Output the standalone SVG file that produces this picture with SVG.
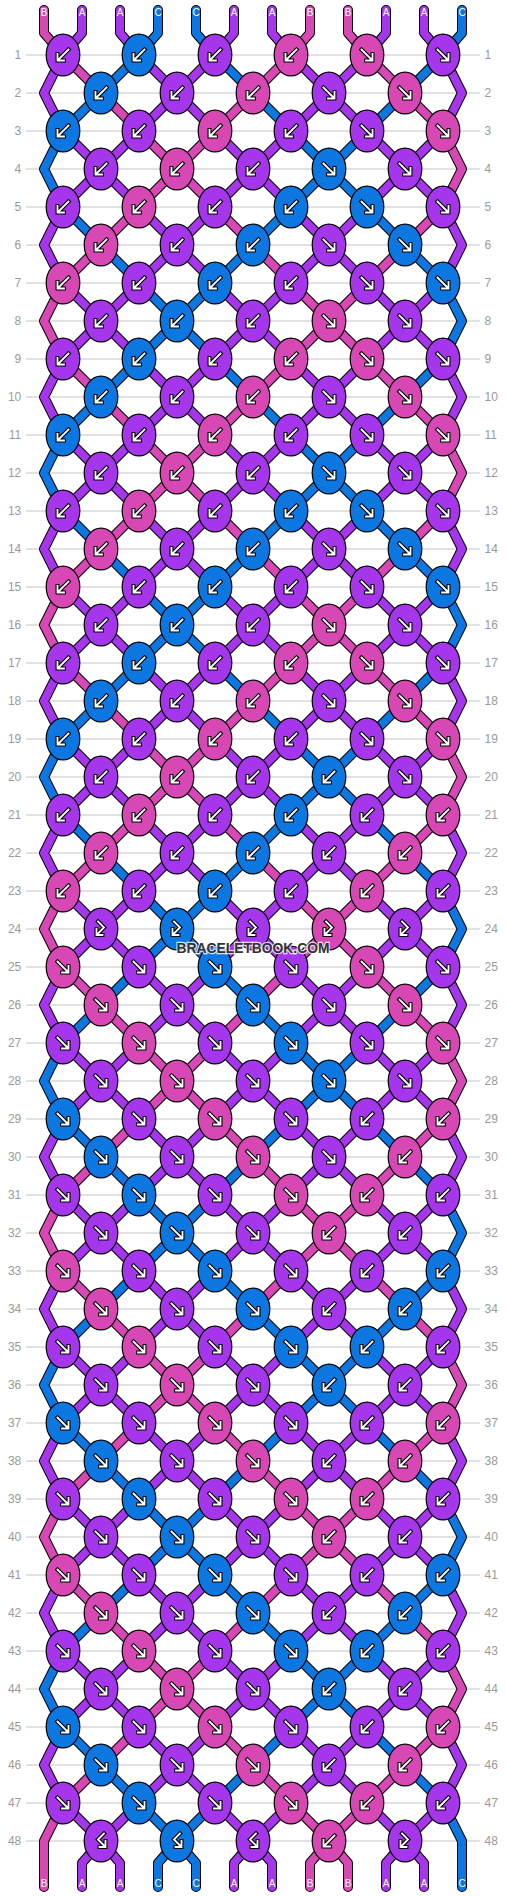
<svg xmlns="http://www.w3.org/2000/svg" xmlns:xlink="http://www.w3.org/1999/xlink" width="506" height="1896" viewBox="0 0 506 1896">
<style>
.a{fill:#a536ec}.b{fill:#d848b5}.c{fill:#0d77e1}
ellipse{stroke:#000;stroke-width:1.2}
.rn{font-family:"Liberation Sans",Arial,sans-serif;font-size:12px;fill:#9a9a9a}
.lb{font-family:"Liberation Sans",Arial,sans-serif;font-size:10px;fill:#fff;text-anchor:middle}
.ol{fill:none;stroke:#000;stroke-width:10;stroke-linecap:round;stroke-linejoin:round}
.cl{fill:none;stroke-width:8;stroke-linecap:round;stroke-linejoin:round}
</style>
<defs>
<path id="sAa" d="M63,55L44,93L63,131M139,55L177,93L215,55M139,131L177,93L215,131M291,55L329,93L367,55M291,131L329,93L367,131M443,55L462,93L443,131M63,131L101,169L139,131M63,207L101,169L139,207M215,131L253,169L291,131M215,207L253,169L291,207M367,131L405,169L443,131M367,207L405,169L443,207M63,207L44,245L63,283M139,207L177,245L215,207M139,283L177,245L215,283M291,207L329,245L367,207M291,283L329,245L367,283M443,207L462,245L443,283M63,283L101,321L139,283M215,283L253,321L291,283M367,283L405,321L443,283"/>
<path id="sAb" d="M63,55L101,93L139,131M291,55L253,93L215,131M367,55L405,93L443,131M139,131L177,169L215,131M139,207L177,169L215,207M443,131L462,169L443,207M139,207L101,245L63,283M215,207L253,245L291,283M443,207L405,245L367,283M291,283L329,321L367,283"/>
<path id="sAc" d="M139,55L101,93L63,131M215,55L253,93L291,131M443,55L405,93L367,131M63,131L44,169L63,207M291,131L329,169L367,131M291,207L329,169L367,207M63,207L101,245L139,283M291,207L253,245L215,283M367,207L405,245L443,283M139,283L177,321L215,283"/>
<path id="sBa" d="M63,359L101,321L139,359M215,359L253,321L291,359M367,359L405,321L443,359"/>
<path id="sBb" d="M63,283L44,321L63,359M291,359L329,321L367,359"/>
<path id="sBc" d="M139,359L177,321L215,359M443,283L462,321L443,359"/>
<path id="tb" d="M44,10L44,33L63,55M310,10L310,33L291,55M348,10L348,33L367,55M63,1803L44,1841L44,1887M329,1841L310,1863L310,1887M329,1841L348,1863L348,1887"/>
<path id="ta" d="M82,10L82,33L63,55M120,10L120,33L139,55M234,10L234,33L215,55M272,10L272,33L291,55M386,10L386,33L367,55M424,10L424,33L443,55M101,1841L82,1863L82,1887M101,1841L120,1863L120,1887M253,1841L234,1863L234,1887M253,1841L272,1863L272,1887M405,1841L386,1863L386,1887M405,1841L424,1863L424,1887"/>
<path id="tc" d="M158,10L158,33L139,55M196,10L196,33L215,55M462,10L462,33L443,55M177,1841L158,1863L158,1887M177,1841L196,1863L196,1887M443,1803L462,1841L462,1887"/>
<g id="kA"><use href="#sAa"/><use href="#sAb"/><use href="#sAc"/></g>
<g id="kB"><use href="#sBa"/><use href="#sBb"/><use href="#sBc"/></g>
<path id="pL" d="M5.5,-5.5L-4.5,4.5M-5.5,-1L-5.5,5.5L1,5.5"/>
<path id="pF" d="M-3,-7.5L3,-1.5L-4,5.5M-4.5,0L-4.5,6L1.5,6"/>
<g id="L" fill="none" stroke-linecap="square"><use href="#pL" stroke="#000" stroke-width="4"/><use href="#pL" stroke="#fff" stroke-width="1.8"/></g>
<g id="R" transform="scale(-1,1)"><use href="#L"/></g>
<g id="F" fill="none" stroke-linecap="square"><use href="#pF" stroke="#000" stroke-width="4"/><use href="#pF" stroke="#fff" stroke-width="1.8"/></g>
<g id="G" transform="scale(-1,1)"><use href="#F"/></g>
<ellipse id="ea" class="a" rx="16.8" ry="20.9"/>
<ellipse id="eb" class="b" rx="16.8" ry="20.9"/>
<ellipse id="ec" class="c" rx="16.8" ry="20.9"/>
<g id="aL"><use href="#ea"/><use href="#L"/></g>
<g id="bL"><use href="#eb"/><use href="#L"/></g>
<g id="cL"><use href="#ec"/><use href="#L"/></g>
<g id="aR"><use href="#ea"/><use href="#R"/></g>
<g id="bR"><use href="#eb"/><use href="#R"/></g>
<g id="cR"><use href="#ec"/><use href="#R"/></g>
<g id="aF"><use href="#ea"/><use href="#F"/></g>
<g id="bF"><use href="#eb"/><use href="#F"/></g>
<g id="cF"><use href="#ec"/><use href="#F"/></g>
<g id="aG"><use href="#ea"/><use href="#G"/></g>
<g id="cG"><use href="#ec"/><use href="#G"/></g>
</defs>
<rect width="506" height="1896" fill="#fff"/>
<g id="grid">
<path stroke="#c4c4c4" stroke-width="1" fill="none" d="M26,55H480M26,93H480M26,131H480M26,169H480M26,207H480M26,245H480M26,283H480M26,321H480M26,359H480M26,397H480M26,435H480M26,473H480M26,511H480M26,549H480M26,587H480M26,625H480M26,663H480M26,701H480M26,739H480M26,777H480M26,815H480M26,853H480M26,891H480M26,929H480M26,967H480M26,1005H480M26,1043H480M26,1081H480M26,1119H480M26,1157H480M26,1195H480M26,1233H480M26,1271H480M26,1309H480M26,1347H480M26,1385H480M26,1423H480M26,1461H480M26,1499H480M26,1537H480M26,1575H480M26,1613H480M26,1651H480M26,1689H480M26,1727H480M26,1765H480M26,1803H480M26,1841H480"/>
<g class="rn" transform="translate(0,4.3)">
<g text-anchor="end">
<text x="21.3" y="55">1</text><text x="21.3" y="93">2</text><text x="21.3" y="131">3</text><text x="21.3" y="169">4</text><text x="21.3" y="207">5</text><text x="21.3" y="245">6</text><text x="21.3" y="283">7</text><text x="21.3" y="321">8</text><text x="21.3" y="359">9</text><text x="21.3" y="397">10</text><text x="21.3" y="435">11</text><text x="21.3" y="473">12</text><text x="21.3" y="511">13</text><text x="21.3" y="549">14</text><text x="21.3" y="587">15</text><text x="21.3" y="625">16</text><text x="21.3" y="663">17</text><text x="21.3" y="701">18</text><text x="21.3" y="739">19</text><text x="21.3" y="777">20</text><text x="21.3" y="815">21</text><text x="21.3" y="853">22</text><text x="21.3" y="891">23</text><text x="21.3" y="929">24</text><text x="21.3" y="967">25</text><text x="21.3" y="1005">26</text><text x="21.3" y="1043">27</text><text x="21.3" y="1081">28</text><text x="21.3" y="1119">29</text><text x="21.3" y="1157">30</text><text x="21.3" y="1195">31</text><text x="21.3" y="1233">32</text><text x="21.3" y="1271">33</text><text x="21.3" y="1309">34</text><text x="21.3" y="1347">35</text><text x="21.3" y="1385">36</text><text x="21.3" y="1423">37</text><text x="21.3" y="1461">38</text><text x="21.3" y="1499">39</text><text x="21.3" y="1537">40</text><text x="21.3" y="1575">41</text><text x="21.3" y="1613">42</text><text x="21.3" y="1651">43</text><text x="21.3" y="1689">44</text><text x="21.3" y="1727">45</text><text x="21.3" y="1765">46</text><text x="21.3" y="1803">47</text><text x="21.3" y="1841">48</text>
</g>
<g text-anchor="start">
<text x="484.5" y="55">1</text><text x="484.5" y="93">2</text><text x="484.5" y="131">3</text><text x="484.5" y="169">4</text><text x="484.5" y="207">5</text><text x="484.5" y="245">6</text><text x="484.5" y="283">7</text><text x="484.5" y="321">8</text><text x="484.5" y="359">9</text><text x="484.5" y="397">10</text><text x="484.5" y="435">11</text><text x="484.5" y="473">12</text><text x="484.5" y="511">13</text><text x="484.5" y="549">14</text><text x="484.5" y="587">15</text><text x="484.5" y="625">16</text><text x="484.5" y="663">17</text><text x="484.5" y="701">18</text><text x="484.5" y="739">19</text><text x="484.5" y="777">20</text><text x="484.5" y="815">21</text><text x="484.5" y="853">22</text><text x="484.5" y="891">23</text><text x="484.5" y="929">24</text><text x="484.5" y="967">25</text><text x="484.5" y="1005">26</text><text x="484.5" y="1043">27</text><text x="484.5" y="1081">28</text><text x="484.5" y="1119">29</text><text x="484.5" y="1157">30</text><text x="484.5" y="1195">31</text><text x="484.5" y="1233">32</text><text x="484.5" y="1271">33</text><text x="484.5" y="1309">34</text><text x="484.5" y="1347">35</text><text x="484.5" y="1385">36</text><text x="484.5" y="1423">37</text><text x="484.5" y="1461">38</text><text x="484.5" y="1499">39</text><text x="484.5" y="1537">40</text><text x="484.5" y="1575">41</text><text x="484.5" y="1613">42</text><text x="484.5" y="1651">43</text><text x="484.5" y="1689">44</text><text x="484.5" y="1727">45</text><text x="484.5" y="1765">46</text><text x="484.5" y="1803">47</text><text x="484.5" y="1841">48</text>
</g>
</g>
</g>
<g id="connectors">
<g class="ol">
<use href="#kA"/><use href="#kA" y="304"/><use href="#kA" y="608"/><use href="#kA" y="912"/><use href="#kA" y="1216"/><use href="#kA" y="1520"/>
<use href="#kB"/><use href="#kB" y="304"/><use href="#kB" y="608"/><use href="#kB" y="912"/><use href="#kB" y="1216"/>
<use href="#ta"/><use href="#tb"/><use href="#tc"/>
</g>
<g class="cl" stroke="#a536ec">
<use href="#sAa"/><use href="#sAa" y="304"/><use href="#sAa" y="608"/><use href="#sAa" y="912"/><use href="#sAa" y="1216"/><use href="#sAa" y="1520"/>
<use href="#sBa"/><use href="#sBa" y="304"/><use href="#sBa" y="608"/><use href="#sBa" y="912"/><use href="#sBa" y="1216"/>
<use href="#ta"/>
</g>
<g class="cl" stroke="#d848b5">
<use href="#sAb"/><use href="#sAb" y="304"/><use href="#sAb" y="608"/><use href="#sAb" y="912"/><use href="#sAb" y="1216"/><use href="#sAb" y="1520"/>
<use href="#sBb"/><use href="#sBb" y="304"/><use href="#sBb" y="608"/><use href="#sBb" y="912"/><use href="#sBb" y="1216"/>
<use href="#tb"/>
</g>
<g class="cl" stroke="#0d77e1">
<use href="#sAc"/><use href="#sAc" y="304"/><use href="#sAc" y="608"/><use href="#sAc" y="912"/><use href="#sAc" y="1216"/><use href="#sAc" y="1520"/>
<use href="#sBc"/><use href="#sBc" y="304"/><use href="#sBc" y="608"/><use href="#sBc" y="912"/><use href="#sBc" y="1216"/>
<use href="#tc"/>
</g>
</g>
<g id="labels" class="lb">
<text x="44" y="16">B</text><text x="82" y="16">A</text><text x="120" y="16">A</text><text x="158" y="16">C</text><text x="196" y="16">C</text><text x="234" y="16">A</text><text x="272" y="16">A</text><text x="310" y="16">B</text><text x="348" y="16">B</text><text x="386" y="16">A</text><text x="424" y="16">A</text><text x="462" y="16">C</text>
<text x="44" y="1887">B</text><text x="82" y="1887">A</text><text x="120" y="1887">A</text><text x="158" y="1887">C</text><text x="196" y="1887">C</text><text x="234" y="1887">A</text><text x="272" y="1887">A</text><text x="310" y="1887">B</text><text x="348" y="1887">B</text><text x="386" y="1887">A</text><text x="424" y="1887">A</text><text x="462" y="1887">C</text>
</g>
<g id="knots">
<g id="r1k1"><use href="#aL" x="63" y="55"/></g><g id="r1k2"><use href="#cL" x="139" y="55"/></g><g id="r1k3"><use href="#aL" x="215" y="55"/></g><g id="r1k4"><use href="#bL" x="291" y="55"/></g><g id="r1k5"><use href="#bR" x="367" y="55"/></g><g id="r1k6"><use href="#aR" x="443" y="55"/></g>
<g id="r2k1"><use href="#cL" x="101" y="93"/></g><g id="r2k2"><use href="#aL" x="177" y="93"/></g><g id="r2k3"><use href="#bL" x="253" y="93"/></g><g id="r2k4"><use href="#aR" x="329" y="93"/></g><g id="r2k5"><use href="#bR" x="405" y="93"/></g>
<g id="r3k1"><use href="#cL" x="63" y="131"/></g><g id="r3k2"><use href="#aL" x="139" y="131"/></g><g id="r3k3"><use href="#bL" x="215" y="131"/></g><g id="r3k4"><use href="#aL" x="291" y="131"/></g><g id="r3k5"><use href="#aR" x="367" y="131"/></g><g id="r3k6"><use href="#bR" x="443" y="131"/></g>
<g id="r4k1"><use href="#aL" x="101" y="169"/></g><g id="r4k2"><use href="#bL" x="177" y="169"/></g><g id="r4k3"><use href="#aL" x="253" y="169"/></g><g id="r4k4"><use href="#cR" x="329" y="169"/></g><g id="r4k5"><use href="#aR" x="405" y="169"/></g>
<g id="r5k1"><use href="#aL" x="63" y="207"/></g><g id="r5k2"><use href="#bL" x="139" y="207"/></g><g id="r5k3"><use href="#aL" x="215" y="207"/></g><g id="r5k4"><use href="#cL" x="291" y="207"/></g><g id="r5k5"><use href="#cR" x="367" y="207"/></g><g id="r5k6"><use href="#aR" x="443" y="207"/></g>
<g id="r6k1"><use href="#bL" x="101" y="245"/></g><g id="r6k2"><use href="#aL" x="177" y="245"/></g><g id="r6k3"><use href="#cL" x="253" y="245"/></g><g id="r6k4"><use href="#aR" x="329" y="245"/></g><g id="r6k5"><use href="#cR" x="405" y="245"/></g>
<g id="r7k1"><use href="#bL" x="63" y="283"/></g><g id="r7k2"><use href="#aL" x="139" y="283"/></g><g id="r7k3"><use href="#cL" x="215" y="283"/></g><g id="r7k4"><use href="#aL" x="291" y="283"/></g><g id="r7k5"><use href="#aR" x="367" y="283"/></g><g id="r7k6"><use href="#cR" x="443" y="283"/></g>
<g id="r8k1"><use href="#aL" x="101" y="321"/></g><g id="r8k2"><use href="#cL" x="177" y="321"/></g><g id="r8k3"><use href="#aL" x="253" y="321"/></g><g id="r8k4"><use href="#bR" x="329" y="321"/></g><g id="r8k5"><use href="#aR" x="405" y="321"/></g>
<g id="r9k1"><use href="#aL" x="63" y="359"/></g><g id="r9k2"><use href="#cL" x="139" y="359"/></g><g id="r9k3"><use href="#aL" x="215" y="359"/></g><g id="r9k4"><use href="#bL" x="291" y="359"/></g><g id="r9k5"><use href="#bR" x="367" y="359"/></g><g id="r9k6"><use href="#aR" x="443" y="359"/></g>
<g id="r10k1"><use href="#cL" x="101" y="397"/></g><g id="r10k2"><use href="#aL" x="177" y="397"/></g><g id="r10k3"><use href="#bL" x="253" y="397"/></g><g id="r10k4"><use href="#aR" x="329" y="397"/></g><g id="r10k5"><use href="#bR" x="405" y="397"/></g>
<g id="r11k1"><use href="#cL" x="63" y="435"/></g><g id="r11k2"><use href="#aL" x="139" y="435"/></g><g id="r11k3"><use href="#bL" x="215" y="435"/></g><g id="r11k4"><use href="#aL" x="291" y="435"/></g><g id="r11k5"><use href="#aR" x="367" y="435"/></g><g id="r11k6"><use href="#bR" x="443" y="435"/></g>
<g id="r12k1"><use href="#aL" x="101" y="473"/></g><g id="r12k2"><use href="#bL" x="177" y="473"/></g><g id="r12k3"><use href="#aL" x="253" y="473"/></g><g id="r12k4"><use href="#cR" x="329" y="473"/></g><g id="r12k5"><use href="#aR" x="405" y="473"/></g>
<g id="r13k1"><use href="#aL" x="63" y="511"/></g><g id="r13k2"><use href="#bL" x="139" y="511"/></g><g id="r13k3"><use href="#aL" x="215" y="511"/></g><g id="r13k4"><use href="#cL" x="291" y="511"/></g><g id="r13k5"><use href="#cR" x="367" y="511"/></g><g id="r13k6"><use href="#aR" x="443" y="511"/></g>
<g id="r14k1"><use href="#bL" x="101" y="549"/></g><g id="r14k2"><use href="#aL" x="177" y="549"/></g><g id="r14k3"><use href="#cL" x="253" y="549"/></g><g id="r14k4"><use href="#aR" x="329" y="549"/></g><g id="r14k5"><use href="#cR" x="405" y="549"/></g>
<g id="r15k1"><use href="#bL" x="63" y="587"/></g><g id="r15k2"><use href="#aL" x="139" y="587"/></g><g id="r15k3"><use href="#cL" x="215" y="587"/></g><g id="r15k4"><use href="#aL" x="291" y="587"/></g><g id="r15k5"><use href="#aR" x="367" y="587"/></g><g id="r15k6"><use href="#cR" x="443" y="587"/></g>
<g id="r16k1"><use href="#aL" x="101" y="625"/></g><g id="r16k2"><use href="#cL" x="177" y="625"/></g><g id="r16k3"><use href="#aL" x="253" y="625"/></g><g id="r16k4"><use href="#bR" x="329" y="625"/></g><g id="r16k5"><use href="#aR" x="405" y="625"/></g>
<g id="r17k1"><use href="#aL" x="63" y="663"/></g><g id="r17k2"><use href="#cL" x="139" y="663"/></g><g id="r17k3"><use href="#aL" x="215" y="663"/></g><g id="r17k4"><use href="#bL" x="291" y="663"/></g><g id="r17k5"><use href="#bR" x="367" y="663"/></g><g id="r17k6"><use href="#aR" x="443" y="663"/></g>
<g id="r18k1"><use href="#cL" x="101" y="701"/></g><g id="r18k2"><use href="#aL" x="177" y="701"/></g><g id="r18k3"><use href="#bL" x="253" y="701"/></g><g id="r18k4"><use href="#aR" x="329" y="701"/></g><g id="r18k5"><use href="#bR" x="405" y="701"/></g>
<g id="r19k1"><use href="#cL" x="63" y="739"/></g><g id="r19k2"><use href="#aL" x="139" y="739"/></g><g id="r19k3"><use href="#bL" x="215" y="739"/></g><g id="r19k4"><use href="#aL" x="291" y="739"/></g><g id="r19k5"><use href="#aR" x="367" y="739"/></g><g id="r19k6"><use href="#bR" x="443" y="739"/></g>
<g id="r20k1"><use href="#aL" x="101" y="777"/></g><g id="r20k2"><use href="#bL" x="177" y="777"/></g><g id="r20k3"><use href="#aL" x="253" y="777"/></g><g id="r20k4"><use href="#cL" x="329" y="777"/></g><g id="r20k5"><use href="#aR" x="405" y="777"/></g>
<g id="r21k1"><use href="#aL" x="63" y="815"/></g><g id="r21k2"><use href="#bL" x="139" y="815"/></g><g id="r21k3"><use href="#aL" x="215" y="815"/></g><g id="r21k4"><use href="#cL" x="291" y="815"/></g><g id="r21k5"><use href="#aL" x="367" y="815"/></g><g id="r21k6"><use href="#bL" x="443" y="815"/></g>
<g id="r22k1"><use href="#bL" x="101" y="853"/></g><g id="r22k2"><use href="#aL" x="177" y="853"/></g><g id="r22k3"><use href="#cL" x="253" y="853"/></g><g id="r22k4"><use href="#aL" x="329" y="853"/></g><g id="r22k5"><use href="#bL" x="405" y="853"/></g>
<g id="r23k1"><use href="#bL" x="63" y="891"/></g><g id="r23k2"><use href="#aL" x="139" y="891"/></g><g id="r23k3"><use href="#cL" x="215" y="891"/></g><g id="r23k4"><use href="#aL" x="291" y="891"/></g><g id="r23k5"><use href="#bL" x="367" y="891"/></g><g id="r23k6"><use href="#aL" x="443" y="891"/></g>
<g id="r24k1"><use href="#aF" x="101" y="929"/></g><g id="r24k2"><use href="#cF" x="177" y="929"/></g><g id="r24k3"><use href="#aF" x="253" y="929"/></g><g id="r24k4"><use href="#bF" x="329" y="929"/></g><g id="r24k5"><use href="#aF" x="405" y="929"/></g>
<g id="r25k1"><use href="#bR" x="63" y="967"/></g><g id="r25k2"><use href="#aR" x="139" y="967"/></g><g id="r25k3"><use href="#cR" x="215" y="967"/></g><g id="r25k4"><use href="#aR" x="291" y="967"/></g><g id="r25k5"><use href="#bR" x="367" y="967"/></g><g id="r25k6"><use href="#aR" x="443" y="967"/></g>
<g id="r26k1"><use href="#bR" x="101" y="1005"/></g><g id="r26k2"><use href="#aR" x="177" y="1005"/></g><g id="r26k3"><use href="#cR" x="253" y="1005"/></g><g id="r26k4"><use href="#aR" x="329" y="1005"/></g><g id="r26k5"><use href="#bR" x="405" y="1005"/></g>
<g id="r27k1"><use href="#aR" x="63" y="1043"/></g><g id="r27k2"><use href="#bR" x="139" y="1043"/></g><g id="r27k3"><use href="#aR" x="215" y="1043"/></g><g id="r27k4"><use href="#cR" x="291" y="1043"/></g><g id="r27k5"><use href="#aR" x="367" y="1043"/></g><g id="r27k6"><use href="#bR" x="443" y="1043"/></g>
<g id="r28k1"><use href="#aR" x="101" y="1081"/></g><g id="r28k2"><use href="#bR" x="177" y="1081"/></g><g id="r28k3"><use href="#aR" x="253" y="1081"/></g><g id="r28k4"><use href="#cR" x="329" y="1081"/></g><g id="r28k5"><use href="#aR" x="405" y="1081"/></g>
<g id="r29k1"><use href="#cR" x="63" y="1119"/></g><g id="r29k2"><use href="#aR" x="139" y="1119"/></g><g id="r29k3"><use href="#bR" x="215" y="1119"/></g><g id="r29k4"><use href="#aR" x="291" y="1119"/></g><g id="r29k5"><use href="#aL" x="367" y="1119"/></g><g id="r29k6"><use href="#bL" x="443" y="1119"/></g>
<g id="r30k1"><use href="#cR" x="101" y="1157"/></g><g id="r30k2"><use href="#aR" x="177" y="1157"/></g><g id="r30k3"><use href="#bR" x="253" y="1157"/></g><g id="r30k4"><use href="#aR" x="329" y="1157"/></g><g id="r30k5"><use href="#bL" x="405" y="1157"/></g>
<g id="r31k1"><use href="#aR" x="63" y="1195"/></g><g id="r31k2"><use href="#cR" x="139" y="1195"/></g><g id="r31k3"><use href="#aR" x="215" y="1195"/></g><g id="r31k4"><use href="#bR" x="291" y="1195"/></g><g id="r31k5"><use href="#bL" x="367" y="1195"/></g><g id="r31k6"><use href="#aL" x="443" y="1195"/></g>
<g id="r32k1"><use href="#aR" x="101" y="1233"/></g><g id="r32k2"><use href="#cR" x="177" y="1233"/></g><g id="r32k3"><use href="#aR" x="253" y="1233"/></g><g id="r32k4"><use href="#bL" x="329" y="1233"/></g><g id="r32k5"><use href="#aL" x="405" y="1233"/></g>
<g id="r33k1"><use href="#bR" x="63" y="1271"/></g><g id="r33k2"><use href="#aR" x="139" y="1271"/></g><g id="r33k3"><use href="#cR" x="215" y="1271"/></g><g id="r33k4"><use href="#aR" x="291" y="1271"/></g><g id="r33k5"><use href="#aL" x="367" y="1271"/></g><g id="r33k6"><use href="#cL" x="443" y="1271"/></g>
<g id="r34k1"><use href="#bR" x="101" y="1309"/></g><g id="r34k2"><use href="#aR" x="177" y="1309"/></g><g id="r34k3"><use href="#cR" x="253" y="1309"/></g><g id="r34k4"><use href="#aL" x="329" y="1309"/></g><g id="r34k5"><use href="#cL" x="405" y="1309"/></g>
<g id="r35k1"><use href="#aR" x="63" y="1347"/></g><g id="r35k2"><use href="#bR" x="139" y="1347"/></g><g id="r35k3"><use href="#aR" x="215" y="1347"/></g><g id="r35k4"><use href="#cR" x="291" y="1347"/></g><g id="r35k5"><use href="#cL" x="367" y="1347"/></g><g id="r35k6"><use href="#aL" x="443" y="1347"/></g>
<g id="r36k1"><use href="#aR" x="101" y="1385"/></g><g id="r36k2"><use href="#bR" x="177" y="1385"/></g><g id="r36k3"><use href="#aR" x="253" y="1385"/></g><g id="r36k4"><use href="#cL" x="329" y="1385"/></g><g id="r36k5"><use href="#aL" x="405" y="1385"/></g>
<g id="r37k1"><use href="#cR" x="63" y="1423"/></g><g id="r37k2"><use href="#aR" x="139" y="1423"/></g><g id="r37k3"><use href="#bR" x="215" y="1423"/></g><g id="r37k4"><use href="#aR" x="291" y="1423"/></g><g id="r37k5"><use href="#aL" x="367" y="1423"/></g><g id="r37k6"><use href="#bL" x="443" y="1423"/></g>
<g id="r38k1"><use href="#cR" x="101" y="1461"/></g><g id="r38k2"><use href="#aR" x="177" y="1461"/></g><g id="r38k3"><use href="#bR" x="253" y="1461"/></g><g id="r38k4"><use href="#aL" x="329" y="1461"/></g><g id="r38k5"><use href="#bL" x="405" y="1461"/></g>
<g id="r39k1"><use href="#aR" x="63" y="1499"/></g><g id="r39k2"><use href="#cR" x="139" y="1499"/></g><g id="r39k3"><use href="#aR" x="215" y="1499"/></g><g id="r39k4"><use href="#bR" x="291" y="1499"/></g><g id="r39k5"><use href="#bL" x="367" y="1499"/></g><g id="r39k6"><use href="#aL" x="443" y="1499"/></g>
<g id="r40k1"><use href="#aR" x="101" y="1537"/></g><g id="r40k2"><use href="#cR" x="177" y="1537"/></g><g id="r40k3"><use href="#aR" x="253" y="1537"/></g><g id="r40k4"><use href="#bL" x="329" y="1537"/></g><g id="r40k5"><use href="#aL" x="405" y="1537"/></g>
<g id="r41k1"><use href="#bR" x="63" y="1575"/></g><g id="r41k2"><use href="#aR" x="139" y="1575"/></g><g id="r41k3"><use href="#cR" x="215" y="1575"/></g><g id="r41k4"><use href="#aR" x="291" y="1575"/></g><g id="r41k5"><use href="#aL" x="367" y="1575"/></g><g id="r41k6"><use href="#cL" x="443" y="1575"/></g>
<g id="r42k1"><use href="#bR" x="101" y="1613"/></g><g id="r42k2"><use href="#aR" x="177" y="1613"/></g><g id="r42k3"><use href="#cR" x="253" y="1613"/></g><g id="r42k4"><use href="#aL" x="329" y="1613"/></g><g id="r42k5"><use href="#cL" x="405" y="1613"/></g>
<g id="r43k1"><use href="#aR" x="63" y="1651"/></g><g id="r43k2"><use href="#bR" x="139" y="1651"/></g><g id="r43k3"><use href="#aR" x="215" y="1651"/></g><g id="r43k4"><use href="#cR" x="291" y="1651"/></g><g id="r43k5"><use href="#cL" x="367" y="1651"/></g><g id="r43k6"><use href="#aL" x="443" y="1651"/></g>
<g id="r44k1"><use href="#aR" x="101" y="1689"/></g><g id="r44k2"><use href="#bR" x="177" y="1689"/></g><g id="r44k3"><use href="#aR" x="253" y="1689"/></g><g id="r44k4"><use href="#cL" x="329" y="1689"/></g><g id="r44k5"><use href="#aL" x="405" y="1689"/></g>
<g id="r45k1"><use href="#cR" x="63" y="1727"/></g><g id="r45k2"><use href="#aR" x="139" y="1727"/></g><g id="r45k3"><use href="#bR" x="215" y="1727"/></g><g id="r45k4"><use href="#aR" x="291" y="1727"/></g><g id="r45k5"><use href="#aL" x="367" y="1727"/></g><g id="r45k6"><use href="#bL" x="443" y="1727"/></g>
<g id="r46k1"><use href="#cR" x="101" y="1765"/></g><g id="r46k2"><use href="#aR" x="177" y="1765"/></g><g id="r46k3"><use href="#bR" x="253" y="1765"/></g><g id="r46k4"><use href="#aL" x="329" y="1765"/></g><g id="r46k5"><use href="#bL" x="405" y="1765"/></g>
<g id="r47k1"><use href="#aR" x="63" y="1803"/></g><g id="r47k2"><use href="#cR" x="139" y="1803"/></g><g id="r47k3"><use href="#aR" x="215" y="1803"/></g><g id="r47k4"><use href="#bR" x="291" y="1803"/></g><g id="r47k5"><use href="#bL" x="367" y="1803"/></g><g id="r47k6"><use href="#aL" x="443" y="1803"/></g>
<g id="r48k1"><use href="#aG" x="101" y="1841"/></g><g id="r48k2"><use href="#cG" x="177" y="1841"/></g><g id="r48k3"><use href="#aG" x="253" y="1841"/></g><g id="r48k4"><use href="#bL" x="329" y="1841"/></g><g id="r48k5"><use href="#aF" x="405" y="1841"/></g>
</g>
<text id="watermark" x="253" y="953" text-anchor="middle" font-family="Liberation Sans, Arial, sans-serif" font-weight="bold" font-size="15" textLength="153" lengthAdjust="spacingAndGlyphs" fill="#333" stroke="#fff" stroke-opacity="0.8" stroke-width="2.5" paint-order="stroke">BRACELETBOOK.COM</text>
</svg>
